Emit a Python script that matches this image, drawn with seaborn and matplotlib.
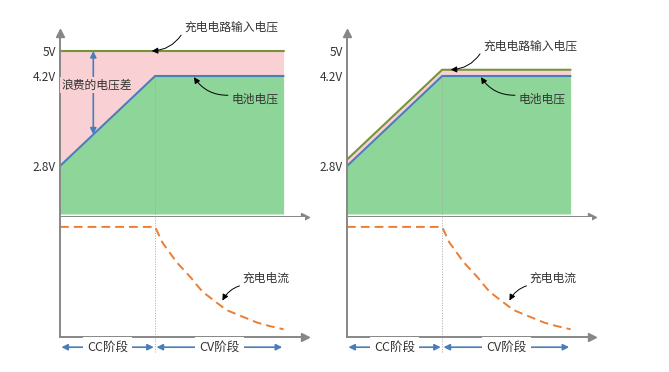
import numpy as np
import matplotlib
matplotlib.use("Agg")
import matplotlib.pyplot as plt
import matplotlib.transforms as mtransforms
import seaborn as sns

# time axis (arbitrary minutes): CC stage 0-40, CV stage 40-94
time_v = [0, 40, 94]
battery_v = [2.8, 4.2, 4.2]
input_left = [5.0, 5.0, 5.0]      # fixed 5V charger input
input_right = [2.9, 4.4, 4.4]     # input follows the battery
cv_start = 40

time_i = [0, 40, 43, 46, 49, 55, 58, 60, 66, 70, 75, 83, 88, 94]
current = [1.0, 1.0, 0.86, 0.77, 0.68, 0.54, 0.46, 0.41, 0.31, 0.245, 0.20, 0.13, 0.10, 0.07]

volt_ticks = [2.8, 4.2, 5.0]
volt_labels = ["2.8V", "4.2V", "5V"]
phase_labels = ["CC阶段", "CV阶段"]

# schematic (non linear) voltage axis
volt_breaks = [-0.2, 0, 2.8, 4.2, 5.0, 6.0]
volt_pix = [0, 3, 51, 141, 166, 184]


def fwd(v):
    return np.interp(v, volt_breaks, volt_pix)


def inv(p):
    return np.interp(p, volt_pix, volt_breaks)


sns.set_style("white")
plt.rcParams['font.family'] = ['Noto Sans CJK SC', 'DejaVu Sans']

GREEN_LINE = "#77933C"
PINK = "#F9D1D4"
GREEN_FILL = "#8DD598"
BLUE = "#4A7EBB"
ORANGE = "#ED7D31"
AXIS = "#878787"
TXT = "#333333"
FS = 8.5

W, H = 669, 372
fig = plt.figure(figsize=(W / 100, H / 100), dpi=100)


def style_axes(ax, arrow_up):
    for s in ["top", "right"]:
        ax.spines[s].set_visible(False)
    for s in ["left", "bottom"]:
        ax.spines[s].set_color(AXIS)
        ax.spines[s].set_linewidth(1.4)
    ax.plot(1, 0, ">", color=AXIS, ms=5.5, transform=ax.transAxes, clip_on=False)
    if arrow_up:
        ax.plot(0, 1, "^", color=AXIS, ms=5.5, transform=ax.transAxes, clip_on=False)
    ax.set_xlim(0, 103)
    ax.set_xticks([])
    ax.set_xlabel("")
    ax.set_ylabel("")


def draw_panel(x0, input_v, show_waste):
    axv = fig.add_axes([x0 / W, 1 - 217 / H, 245 / W, 184 / H])
    axi = fig.add_axes([x0 / W, 1 - 337 / H, 245 / W, 120 / H])

    # voltage part
    axv.set_yscale("function", functions=(fwd, inv))
    axv.set_ylim(-0.2, 6.0)
    axv.fill_between(time_v, 0, battery_v, color=GREEN_FILL, lw=0)
    axv.fill_between(time_v, battery_v, input_v, color=PINK, lw=0)
    sns.lineplot(x=time_v, y=input_v, ax=axv, color=GREEN_LINE, lw=1.5)
    sns.lineplot(x=time_v, y=battery_v, ax=axv, color=BLUE, lw=1.5)
    v_cv = np.interp(cv_start, time_v, battery_v)
    axv.vlines(cv_start, -0.2, v_cv, color="#A6A6A6", lw=0.7, ls=":", zorder=3)
    axv.set_yticks(volt_ticks)
    axv.set_yticklabels(volt_labels, fontsize=FS, color=TXT)
    axv.tick_params(axis="y", length=0, pad=3)
    style_axes(axv, True)

    arrow = dict(arrowstyle="-|>", color="black", lw=0.7, mutation_scale=9,
                 shrinkA=0, shrinkB=1)
    t_in = 38 if show_waste else 43
    axv.annotate("充电电路输入电压", xy=(t_in, np.interp(t_in, time_v, input_v)),
                 xytext=(34, 24), textcoords="offset pixels", ha="left", va="center",
                 fontsize=FS, color=TXT,
                 arrowprops=dict(arrow, relpos=(0, 0.3), connectionstyle="arc3,rad=-0.3"))
    axv.annotate("电池电压", xy=(56, 4.2), xytext=(38, -23), textcoords="offset pixels",
                 ha="left", va="center", fontsize=FS, color=TXT,
                 arrowprops=dict(arrow, relpos=(0, 0.8), connectionstyle="arc3,rad=-0.3"))

    if show_waste:
        t_w = 14
        axv.annotate("", xy=(t_w, 5.0), xytext=(t_w, np.interp(t_w, time_v, battery_v)),
                     arrowprops=dict(arrowstyle="<|-|>", color=BLUE, lw=1.2,
                                     mutation_scale=9, shrinkA=0, shrinkB=0))
        axv.text(15.5, 4.06, "浪费的电压差", ha="center", va="center", fontsize=FS,
                 color=TXT, bbox=dict(facecolor=PINK, edgecolor="none", pad=1))

    # current part
    axi.set_ylim(0, 1.09)
    sns.lineplot(x=time_i, y=current, ax=axi, color=ORANGE, lw=1.4,
                 linestyle=(0, (4.5, 2.6)))
    axi.axvline(cv_start, ymin=-0.125, ymax=1, color="#A6A6A6", lw=0.7, ls=":",
                clip_on=False)
    axi.set_yticks([])
    style_axes(axi, False)
    axi.annotate("充电电流", xy=(68, 0.32), xytext=(21, 24), textcoords="offset pixels",
                 ha="left", va="center", fontsize=FS, color=TXT,
                 arrowprops=dict(arrow, relpos=(0.15, 0.0), connectionstyle="arc3,rad=0.3"))

    # stage arrows below the axis
    trans = mtransforms.blended_transform_factory(axi.transData, axi.transAxes)
    stages = [(0, cv_start), (cv_start, time_v[-1])]
    for (a, b), lab in zip(stages, phase_labels):
        axi.annotate("", xy=(a, -0.085), xytext=(b, -0.085), xycoords=trans,
                     textcoords=trans,
                     arrowprops=dict(arrowstyle="<|-|>", color=BLUE, lw=1.2,
                                     mutation_scale=9, shrinkA=1, shrinkB=1))
        axi.text((a + b) / 2, -0.085, lab, transform=trans, ha="center", va="center",
                 fontsize=FS + 0.5, color=TXT,
                 bbox=dict(facecolor="white", edgecolor="none", pad=3))


draw_panel(60, input_left, True)
draw_panel(347, input_right, False)

fig.savefig("out.png", dpi=100)
